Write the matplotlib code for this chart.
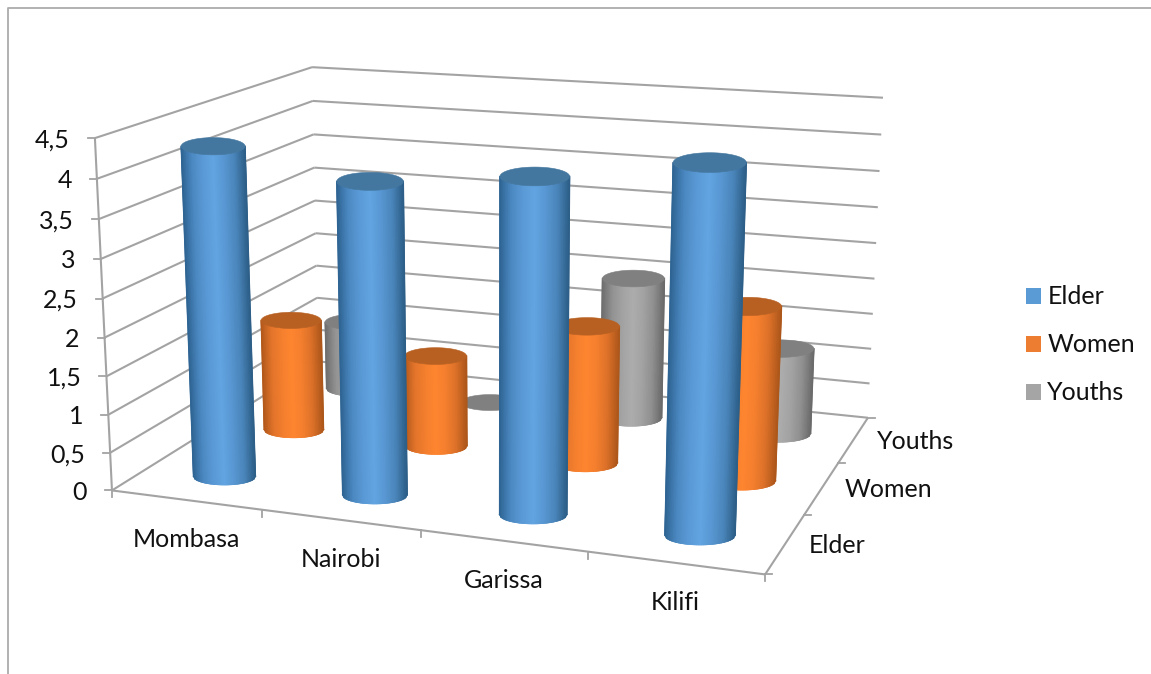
"""3D cylinder column chart, projected by hand onto a flat pixel axes."""
import numpy as np
import matplotlib
matplotlib.use('Agg')
import matplotlib.pyplot as plt
from matplotlib.colors import LinearSegmentedColormap
from matplotlib.patches import Patch, Polygon

plt.rcParams['font.family'] = ['Lato', 'DejaVu Sans']

cities = ['Mombasa', 'Nairobi', 'Garissa', 'Kilifi']
groups = ['Elder', 'Women', 'Youths']
elder = [4.3, 4, 4.2, 4.5]
women = [1.55, 1.25, 1.85, 2.3]
youths = [1, 0, 2, 1.2]
values = [elder, women, youths]
value_ticks = [0, 0.5, 1, 1.5, 2, 2.5, 3, 3.5, 4, 4.5]
value_labels = ['0', '0,5', '1', '1,5', '2', '2,5', '3', '3,5', '4', '4,5']

ZMAX = value_ticks[-1]
GRID = '#a3a3a3'
FS = 18
# body gradient from left edge to right edge, then cap colour
SHADES = [
    (['#2f6594', '#4c89c2', '#5a9ad6', '#62a5e2', '#5897d2', '#4a85ba', '#2d5f88'], '#44779f'),
    (['#b3591c', '#e3752b', '#f47f2e', '#ff8630', '#f47f2e', '#dc7129', '#ad571b'], '#b86022'),
    (['#6f6f6f', '#939393', '#a3a3a3', '#adadad', '#a3a3a3', '#909090', '#6b6b6b'], '#808080'),
]
LEGEND_COLORS = ['#5b9bd5', '#ed7d31', '#a5a5a5']
RX = 0.2        # column radius in category units
FLAT = 0.27     # ellipse height / width on screen

# camera calibration: box corner -> pixel position
calib = [((0, 0, 0), (112, 490)), ((4, 0, 0), (765, 575)), ((4, 3, 0), (868, 417)),
         ((0, 3, 0), (318.5, 362)), ((0, 0, ZMAX), (95, 138)),
         ((0, 3, ZMAX), (312, 67)), ((4, 3, ZMAX), (883, 98))]
A, b = [], []
for (x, y, z), (u, v) in calib:
    A.append([x, y, z, 1, 0, 0, 0, 0, -u * x, -u * y, -u * z])
    A.append([0, 0, 0, 0, x, y, z, 1, -v * x, -v * y, -v * z])
    b += [u, v]
P = np.append(np.linalg.lstsq(np.array(A, float), np.array(b, float), rcond=None)[0], 1).reshape(3, 4)


def project(x, y, z):
    x, y, z = np.broadcast_arrays(x, y, z)
    h = P @ np.vstack([x.ravel(), y.ravel(), z.ravel(), np.ones(x.size)])
    return np.column_stack([h[0] / h[2], h[1] / h[2]])


def line3d(ax, a, b, lw=1.5, color=GRID, zorder=1):
    pts = project(*np.array([a, b]).T)
    ax.plot(pts[:, 0], pts[:, 1], color=color, lw=lw, zorder=zorder, solid_capstyle='butt')


def ring(cx, cy, h, t):
    # screen-aligned ellipse around the projected column centre
    c = project(cx, cy, h)[0]
    half = (project(cx + RX, cy, h)[0, 0] - project(cx - RX, cy, h)[0, 0]) / 2
    a = 0.85 * half + 6
    return np.column_stack([c[0] + 3 + a * np.cos(t), c[1] + a * FLAT * np.sin(t)])


def cylinder(ax, cx, cy, h, shade, cap, zorder):
    if h > 0:
        # strips evenly spaced across the screen width, left to right
        u = np.linspace(0, 1, 41)
        arc = np.arccos(2 * u - 1)
        bot, upper = ring(cx, cy, 0, arc), ring(cx, cy, h, arc)
        X = np.vstack([bot[:, 0], upper[:, 0]])
        Y = np.vstack([bot[:, 1], upper[:, 1]])
        cmap = LinearSegmentedColormap.from_list('s', shade)
        ax.pcolormesh(X, Y, np.vstack([u, u]), shading='gouraud', cmap=cmap, vmin=0, vmax=1, zorder=zorder)
        # soften the mesh edge with thin outlines in the edge colours
        ax.plot(X[:, 0], Y[:, 0], color=shade[0], lw=1, zorder=zorder + 0.1)
        ax.plot(X[:, -1], Y[:, -1], color=shade[-1], lw=1, zorder=zorder + 0.1)
        mid = (u[:-1] + u[1:]) / 2
        for k, col in enumerate(cmap(mid)):
            ax.plot(bot[k:k + 2, 0], bot[k:k + 2, 1], color=col, lw=1, zorder=zorder + 0.1)
    top = ring(cx, cy, h, np.linspace(0, 2 * np.pi, 121)[:-1])
    ax.add_patch(Polygon(top, closed=True, fc=cap, ec=cap, lw=0.4, zorder=zorder + 0.5))


fig = plt.figure(figsize=(11.51, 6.74), dpi=100)
ax = fig.add_axes([0, 0, 1, 1])
ax.set_xlim(0, 1151)
ax.set_ylim(674, 0)
ax.axis('off')

# outer frame, open on the right and at the bottom
ax.plot([8, 8, 1151], [674, 7.5, 7.5], color='#ababab', lw=1.3, zorder=0)

# walls and floor
for v in value_ticks:
    line3d(ax, (0, 0, v), (0, 3, v))
    line3d(ax, (0, 3, v), (4, 3, v))
line3d(ax, (0, 0, 0), (0, 0, ZMAX))
line3d(ax, (0, 0, 0), (4, 0, 0))
line3d(ax, (4, 0, 0), (4, 3, 0))
for v, lab in zip(value_ticks, value_labels):
    p = project(0, 0, v)[0]
    ax.plot([p[0] - 7, p[0]], [p[1], p[1]], color=GRID, lw=1.3)
    ax.text(p[0] - 25, p[1] + 2, lab, ha='right', va='center', fontsize=FS, color='#111111')
for i in range(5):
    p = project(i, 0, 0)[0]
    ax.plot([p[0], p[0]], [p[1], p[1] + 7], color=GRID, lw=1.3)
for j in range(4):
    p = project(4, j, 0)[0]
    ax.plot([p[0], p[0] + 7], [p[1], p[1]], color=GRID, lw=1.3)

for i, name in enumerate(cities):
    p = project(i + 0.5, 0, 0)[0]
    ax.text(p[0], p[1] + 40, name, ha='center', va='center', fontsize=FS, color='#111111')
for j, name in enumerate(groups):
    p = project(4, j + 0.5, 0)[0]
    ax.text(p[0] + 23, p[1] + 2, name, ha='left', va='center', fontsize=FS, color='#111111')

# back rows first, left to right within a row
z = 2
for j in reversed(range(3)):
    for i in range(4):
        cylinder(ax, i + 0.5, j + 0.46, values[j][i], SHADES[j][0], SHADES[j][1], z)
        z += 1

handles = [Patch(fc=c, ec='none', label=g) for c, g in zip(LEGEND_COLORS, groups)]
ax.legend(handles=handles, loc='center left', bbox_to_anchor=(1026 / 1151, 1 - 345 / 674), frameon=False,
          fontsize=FS, handlelength=0.6, handleheight=0.6, handletextpad=0.25, labelspacing=1.0,
          borderpad=0, borderaxespad=0, labelcolor='#111111')

fig.savefig('out.png', dpi=100)
